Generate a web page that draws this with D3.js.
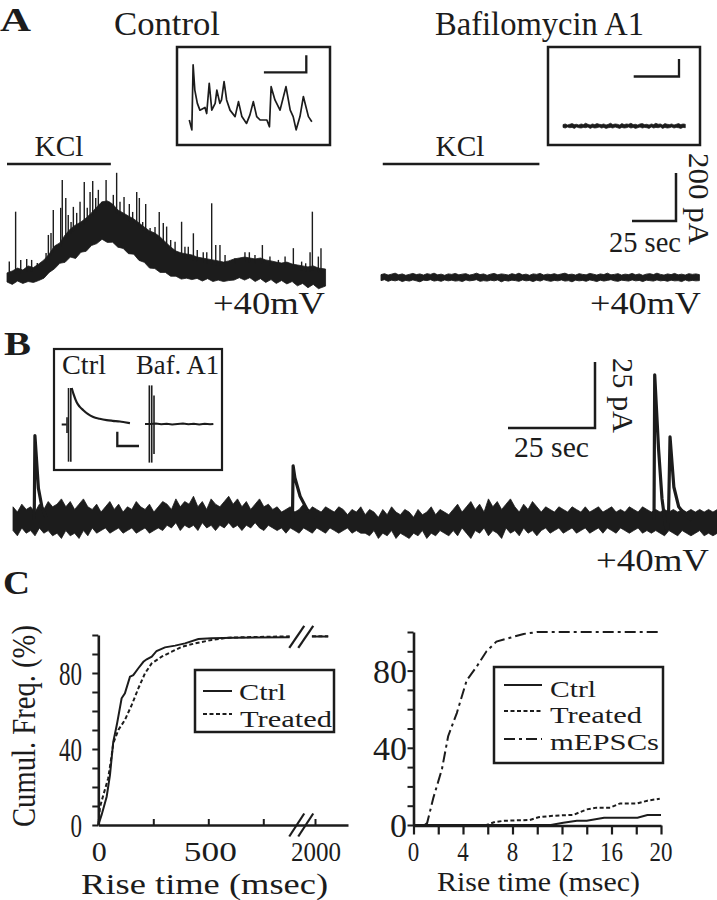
<!DOCTYPE html>
<html><head><meta charset="utf-8">
<script src="https://cdn.jsdelivr.net/npm/d3@7"></script>
<style>
body{margin:0;background:#fff}
svg{display:block}
text{font-family:"Liberation Serif","Times New Roman",serif;fill:#1c1c1c}
</style>
</head><body>
<svg id="fig" width="717" height="900"></svg>
<script>
// ================= DATA =================
// ---- Panel A : whole-cell current during KCl, control (s, pA) ----
const ctrlEnvT  = [0,3,6,9,12,15,18,21,24,27,30,33,36,39,42,45,48,51,54,57,60,63,66,69,72,75,78,81,84,87,90,93,96,99,102,105,108,111,114,117,120,123,126,129,132,135,138,141,144,147,150,153,156,159,162,165,168,171,174,177,181];
const ctrlEnvLo = [0,-10,4,-6,2,-2,6,16,40,55,78,82,104,98,124,128,152,160,178,165,166,145,140,118,116,90,82,58,56,40,40,24,24,12,16,10,15,4,14,2,8,2,6,8,18,8,18,2,14,-2,10,-6,6,-8,2,-16,-6,-24,-10,-28,-17];
const ctrlEnvHi = [38,46,58,50,67,60,75,92,117,150,163,196,221,238,250,267,288,313,334,338,325,300,288,275,263,246,229,213,204,188,167,146,129,121,117,113,104,100,96,92,88,83,88,96,100,104,100,96,100,92,88,83,79,83,75,71,67,63,67,58,54];
const ctrlSpikeT    = [1.3,4.9,7.8,11.2,14,17.2,19.7,22.2,23.5,25,26.3,28.6,30.5,31.4,33.4,34.8,36.4,37.7,39.6,41.5,43.9,45.6,47.2,48.7,50.4,51.9,53.8,56.3,58.1,60.4,62.3,64.2,66.5,69.5,71.4,73.7,75.2,77.1,78.8,81.3,84.1,86.5,88.8,90.7,93,95.5,99.2,101.1,103,105.9,108.1,111.5,113.5,116.3,118.6,121,123.9,129.5,135.2,137.7,140.9,145.1,149.4,154.2,158,162.7,167.4,169.7,172.2,173.5,176.9,178.4];
const ctrlSpikePeak = [85,293,92,96,92,79,79,121,196,204,300,154,309,425,350,279,250,313,288,334,417,309,375,421,350,384,334,425,334,363,455,334,354,325,292,375,350,250,325,225,229,292,246,231,175,168,251,147,147,203,133,124,124,328,154,154,113,99,124,124,113,154,106,92,106,141,85,78,124,293,106,141];
const kclCtrl = [0, 59];      // s
// ---- Panel A : Bafilomycin A1 ----
const bafStep = 2.01;         // s between samples
const bafHi = [12,16,10,14,18,11,15,9,13,17,12,15,10,16,13,18,11,14,9,15,13,17,11,14,16,10,13,18,12,15,9,14,17,11,15,13,10,16,12,18,11,14,9,15,13,17,10,14,12,16,11,15,18,12,14,10,16,13,11,17,14,10,15,12,18,11,13,16,10,14,12,17,11,15,9,14,16,12,18,13,10,15,12,17,11,14,10,16,13,15,12];
const bafLo = [-13,-9,-16,-11,-14,-10,-17,-12,-15,-10,-14,-18,-11,-13,-9,-15,-12,-16,-10,-14,-11,-15,-13,-17,-10,-14,-12,-9,-16,-13,-15,-11,-14,-10,-18,-12,-15,-11,-13,-16,-10,-14,-12,-17,-11,-15,-9,-13,-16,-12,-14,-10,-15,-13,-18,-11,-14,-12,-16,-10,-13,-17,-11,-15,-12,-9,-14,-16,-11,-13,-15,-10,-14,-12,-17,-11,-13,-15,-10,-14,-12,-16,-11,-14,-13,-17,-10,-15,-12,-14,-13];
const kclBaf = [1, 90];       // s
const scaleBarA = {sec: 25, pA: 200};
// ---- Panel A insets (s, pA) ----
const ctrlInsetT = [0,0.06,0.09,0.13,0.19,0.25,0.37,0.41,0.47,0.53,0.61,0.65,0.72,0.76,0.82,0.88,0.96,1.08,1.16,1.24,1.35,1.43,1.51,1.59,1.67,1.83,1.89,1.93,2.02,2.14,2.28,2.38,2.45,2.52,2.61,2.69,2.81,2.89];
const ctrlInsetI = [0,-29,162,88,49,29,37,19,108,29,49,88,49,59,113,59,29,10,54,10,-10,15,54,10,0,0,-20,98,59,29,98,29,10,-29,10,69,10,-5];
const bafInsetStep = 0.05;
const bafInsetHi = [4,6,3,5,7,4,5,3,6,4,8,5,3,6,4,7,5,4,6,3,5,8,4,6,5,3,7,4,6,5,8,4,5,3,6,7,4,5,3,6,4,8,5,6,3,7,5,4,6,3,5,7,4,6,5];
const bafInsetLo = [-4,-6,-3,-5,-4,-7,-3,-5,-6,-4,-5,-3,-7,-4,-6,-5,-3,-6,-4,-7,-5,-4,-6,-3,-5,-7,-4,-6,-5,-3,-6,-4,-7,-5,-3,-6,-4,-5,-7,-3,-6,-4,-5,-3,-7,-4,-6,-5,-3,-6,-4,-5,-7,-4,-5];
const insetBarA = {sec: 1, pA: 50};

// ---- Panel B : spontaneous recording (s, pA) ----
const bStep = 1.265;
const bHi = "5 3 6 4 5 3 6 4 7 5 6 8 5 7 4 6 8 5 4 6 3 5 7 4 6 3 5 4 7 5 4 6 3 5 7 6 4 8 5 7 6 9 5 7 4 8 6 5 7 9 6 8 5 7 4 6 8 5 6 4 5 3 4 5 3 4 6 3 5 4 3 5 4 3 5 4 2 4 3 5 2 4 3 1 4 2 5 3 2 4 3 1 4 2 3 5 2 4 3 2 4 6 3 5 7 4 6 3 8 5 7 4 6 8 5 3 6 4 7 5 3 5 4 3 5 4 3 5 4 3 5 3 4 5 3 4 5 3 4 3 5 4 3 5 4 3 4 3 4 3 4 3 4 3 4 3 4 3 4 3 4".split(" ").map(Number);
const bLo = "-4 -6 -3 -5 -4 -6 -3 -5 -4 -6 -5 -7 -4 -6 -5 -7 -4 -6 -3 -5 -4 -3 -5 -4 -3 -5 -4 -3 -5 -4 -3 -5 -4 -3 -4 -2 -3 -1 -4 -2 -3 -2 -4 -1 -3 -2 -4 -2 -3 -1 -3 -2 -4 -2 -3 -1 -3 -4 -2 -3 -4 -3 -5 -3 -4 -5 -3 -4 -5 -3 -4 -5 -3 -4 -5 -4 -3 -5 -4 -5 -5 -6 -4 -7 -5 -6 -4 -7 -5 -6 -7 -5 -6 -4 -7 -5 -6 -4 -5 -6 -4 -6 -3 -5 -7 -4 -5 -3 -6 -4 -5 -7 -3 -5 -4 -6 -3 -5 -4 -6 -4 -3 -5 -4 -3 -5 -4 -3 -5 -4 -3 -5 -4 -3 -5 -3 -4 -5 -3 -4 -5 -4 -3 -5 -4 -5 -4 -5 -6 -4 -5 -6 -4 -5 -6 -5 -4 -6 -5 -6 -5".split(" ").map(Number);
const bEvent1 = [[6.1,0],[6.3,32],[6.6,26],[7.3,12],[8.3,5],[9.5,1]];
const bEvent2 = [[80.3,0],[80.5,20.5],[81.0,16],[82.5,9],[84.5,4],[87,1]];
const bEvent3 = [[184.2,0],[184.4,55],[185.5,27],[186.5,8],[187.6,-3],[188.3,-3],[188.8,31.5],[189.9,12.5],[191.3,5],[193.1,2],[195,0]];
const scaleBarB = {sec: 25, pA: 25};
// ---- Panel B inset (ms, pA) ----
const bInsetCtrl = [[0,0],[4.5,0],[NaN,NaN],[9.2,25.5],[11,21],[13.8,15.5],[16.5,12.5],[19.9,10],[24,7.4],[29.1,5.2],[35,4],[41.4,3.1],[47,2.6],[53.7,2.1],[58,1.6],[62.9,1.0]];
const bInsetCtrlArtifacts = [[4.9,-6,5],[6.3,-26,25.5],[8.4,-26,25.5]];
const bInsetBaf = [[0,0],[5,0],[10,0.3],[15,-0.2],[20,0.2],[25,-0.3],[30,0],[35,0.3],[40,-0.2],[45,0.2],[50,-0.3],[55,0.1],[60,-0.2],[63,0]];
const bInsetBafArtifacts = [[4,-27,27],[6.2,-27,27],[8.3,-21,20]];
const insetBarB = {ms: 20, pA: 10};

// ---- Panel C : cumulative rise-time distributions (ms, %) ----
const cLeftCtrl = [[0,0],[15,5.3],[38,14.9],[53,26.3],[68,43.8],[84,52.6],[106,66.7],[121,69.3],[144,78.1],[159,78.9],[182,82.5],[205,85.9],[220,87.2],[243,88.6],[265,91.6],[303,93.5],[349,94.4],[394,95.6],[455,97.9],[515,98.3],[620,98.6],[870,98.8]];
const cLeftCtrlTail = [[1986,99.2],[2060,99.2]];
const cLeftTreated = [[0,0],[8,9.6],[23,15.8],[45,24.6],[61,36.8],[68,43],[91,50],[121,55.3],[152,63.2],[182,71.9],[212,79.8],[243,85.1],[288,88.6],[334,91.2],[379,93.8],[440,95.6],[515,97.4],[591,98.6],[697,98.9],[870,99.3]];
const cLeftTreatedTail = [[1986,99.4],[2060,99.4]];
const cLeftXTicks = [0,250,500,750,2000];
const cLeftXLabels = [0,500,2000];
const cRightCtrl = [[0,0],[11.1,0],[12.1,1.2],[13.2,2.2],[14,2.2],[15.4,3.8],[18.1,3.8],[18.9,5.2],[20,5.2]];
const cRightTreated = [[0,0],[5.9,0],[6.5,1.4],[7.3,2.2],[9.4,2.6],[10.1,4],[11.1,4.7],[11.9,5],[12.9,5.2],[14,8.1],[14.8,9],[15.9,9],[16.7,11.2],[18.1,11.2],[18.9,12.6],[19.9,13.6]];
const cRightMEPSC = [[0.9,0],[1.1,1],[1.6,14],[2.3,29],[2.8,46],[3.5,58],[4.3,75],[5.1,82],[5.9,90],[6.7,95],[7.8,97],[8.9,99],[10,100],[20,100]];
const cYTicks = [0,10,20,30,40,50,60,70,80,90,100];
const cYLabels = [0,40,80];
const cRightXTicks = [0,2,4,6,8,10,12,14,16,18,20];
const cRightXLabels = [0,4,8,12,16,20];
const legendLeft = ["Ctrl","Treated"];
const legendRight = ["Ctrl","Treated","mEPSCs"];

// ================= DRAWING =================
const ink = "#1c1c1c";
const svg = d3.select("#fig");
svg.append("rect").attr("width",717).attr("height",900).attr("fill","#fff");

function addText(s, x, y, o = {}) {
  const t = svg.append("text").attr("x", x).attr("y", y).text(s)
    .attr("font-size", o.size || 30)
    .attr("text-anchor", o.anchor || "start");
  if (o.bold) t.attr("font-weight", "bold");
  if (o.len) t.attr("textLength", o.len).attr("lengthAdjust", "spacingAndGlyphs");
  if (o.rot) t.attr("transform", `rotate(${o.rot},${x},${y})`);
  return t;
}
function seg(x1, y1, x2, y2, w = 2.5) {
  svg.append("line").attr("x1", x1).attr("y1", y1).attr("x2", x2).attr("y2", y2)
    .attr("stroke", ink).attr("stroke-width", w).attr("stroke-linecap", "butt");
}
function box(x, y, w, h, sw = 2.5) {
  svg.append("rect").attr("x", x).attr("y", y).attr("width", w).attr("height", h)
    .attr("fill", "none").attr("stroke", ink).attr("stroke-width", sw);
}
function band(rows, x, y, sw = 0.8) {
  svg.append("path").datum(rows)
    .attr("d", d3.area().x(d => x(d.t)).y0(d => y(d.lo)).y1(d => y(d.hi)))
    .attr("fill", ink).attr("stroke", ink).attr("stroke-width", sw).attr("stroke-linejoin", "miter");
}

// ---------- panel letters & titles ----------
addText("A", 0, 31, {size: 34, bold: true, len: 31});
addText("B", 4, 355, {size: 34, bold: true, len: 27});
addText("C", 3, 594, {size: 34, bold: true, len: 27});
addText("Control", 114, 35, {size: 34, len: 106});
addText("Bafilomycin A1", 435, 35, {size: 33, len: 209});

// ---------- Panel A : control ----------
const xCtrl = d3.scaleLinear().domain([0, 181]).range([7, 7 + 181 * 1.76]);
const yCtrl = d3.scaleLinear().domain([0, 200]).range([282, 234]);
band(ctrlEnvT.map((t, i) => ({t, lo: ctrlEnvLo[i], hi: ctrlEnvHi[i]})), xCtrl, yCtrl);
const ctrlTop = d3.scaleLinear().domain(ctrlEnvT).range(ctrlEnvHi);
svg.append("g").selectAll("line").data(ctrlSpikeT.map((t, i) => ({t, p: ctrlSpikePeak[i]})))
  .join("line")
  .attr("x1", d => xCtrl(d.t)).attr("x2", d => xCtrl(d.t))
  .attr("y1", d => yCtrl(ctrlTop(d.t) - 20)).attr("y2", d => yCtrl(d.p))
  .attr("stroke", ink).attr("stroke-width", 1.4);
seg(xCtrl(kclCtrl[0]), 164, xCtrl(kclCtrl[1]), 164, 2.5);
addText("KCl", (xCtrl(kclCtrl[0]) + xCtrl(kclCtrl[1])) / 2, 156, {size: 29, anchor: "middle", len: 49});
addText("+40mV", 213, 314, {size: 32, len: 112});

// control inset
box(177, 47, 153, 98);
const xCI = d3.scaleLinear().domain([0, 1]).range([189.3, 231.7]);
const yCI = d3.scaleLinear().domain([0, 50]).range([120, 103]);
svg.append("path").datum(ctrlInsetT.map((t, i) => [t, ctrlInsetI[i]]))
  .attr("d", d3.line().x(d => xCI(d[0])).y(d => yCI(d[1])))
  .attr("fill", "none").attr("stroke", ink).attr("stroke-width", 1.7).attr("stroke-linejoin", "round");
{
  const L = xCI(insetBarA.sec) - xCI(0), V = yCI(0) - yCI(insetBarA.pA);
  const xr = 306.3, yb = 72.3;
  svg.append("path").attr("d", `M${xr - L},${yb}H${xr}V${yb - V}`)
    .attr("fill", "none").attr("stroke", ink).attr("stroke-width", 2.3);
}

// ---------- Panel A : Bafilomycin ----------
const xBaf = d3.scaleLinear().domain([0, 181]).range([381, 381 + 181 * 1.76]);
const yBaf = d3.scaleLinear().domain([0, 200]).range([277.5, 229.5]);
band(bafHi.map((h, i) => ({t: i * bafStep, lo: bafLo[i], hi: h})), xBaf, yBaf, 0.9);
seg(xBaf(kclBaf[0]), 164, xBaf(kclBaf[1]), 164, 2.5);
addText("KCl", 460, 156, {size: 29, anchor: "middle", len: 49});
addText("+40mV", 590, 314, {size: 32, len: 111});
{
  const L = xBaf(scaleBarA.sec) - xBaf(0), V = yBaf(0) - yBaf(scaleBarA.pA);
  const xr = 676, yb = 221;
  svg.append("path").attr("d", `M${xr - L},${yb}H${xr}V${yb - V}`)
    .attr("fill", "none").attr("stroke", ink).attr("stroke-width", 2.5);
  addText(`${scaleBarA.pA} pA`, 689, 153, {size: 30, rot: 90, len: 92});
  addText(`${scaleBarA.sec} sec`, 609, 252, {size: 29, len: 72});
}
// Baf inset
box(548, 47, 152, 98);
const xBI = d3.scaleLinear().domain([0, 1]).range([563, 608.3]);
const yBI = d3.scaleLinear().domain([0, 50]).range([126, 108.6]);
band(bafInsetHi.map((h, i) => ({t: i * bafInsetStep, lo: bafInsetLo[i], hi: h})), xBI, yBI, 0.7);
{
  const L = xBI(insetBarA.sec) - xBI(0), V = yBI(0) - yBI(insetBarA.pA);
  const xr = 679, yb = 76.5;
  svg.append("path").attr("d", `M${xr - L},${yb}H${xr}V${yb - V}`)
    .attr("fill", "none").attr("stroke", ink).attr("stroke-width", 2.3);
}

// ---------- Panel B ----------
const xB = d3.scaleLinear().domain([0, 202.3]).range([13, 13 + 202.3 * 3.48]);
const yB = d3.scaleLinear().domain([0, 25]).range([520, 454]);
band(bHi.map((h, i) => ({t: i * bStep, lo: bLo[i], hi: h})), xB, yB, 0.8);
[bEvent1, bEvent2, bEvent3].forEach(ev => {
  svg.append("path").datum(ev)
    .attr("d", d3.line().x(d => xB(d[0])).y(d => yB(d[1])))
    .attr("fill", "none").attr("stroke", ink).attr("stroke-width", 3.2).attr("stroke-linejoin", "round");
});
{
  const L = xB(scaleBarB.sec) - xB(0), V = yB(0) - yB(scaleBarB.pA);
  const xr = 595, yb = 428;
  svg.append("path").attr("d", `M${xr - L},${yb}H${xr}V${yb - V}`)
    .attr("fill", "none").attr("stroke", ink).attr("stroke-width", 2.5);
  addText(`${scaleBarB.pA} pA`, 613, 358, {size: 30, rot: 90, len: 75});
  addText(`${scaleBarB.sec} sec`, 514, 457, {size: 30, len: 75});
}
addText("+40mV", 596, 571, {size: 32, len: 113});

// B inset
box(54, 349, 168, 121, 2.2);
addText("Ctrl", 62, 374, {size: 27, len: 44});
addText("Baf. A1", 136, 374, {size: 27, len: 83});
const xBIc = d3.scaleLinear().domain([0, 20]).range([61.7, 83.4]);
const xBIb = d3.scaleLinear().domain([0, 20]).range([145, 166.7]);
const yBIc = d3.scaleLinear().domain([0, 10]).range([424.5, 410.2]);
const yBIb = d3.scaleLinear().domain([0, 10]).range([424, 409.7]);
svg.append("path").datum(bInsetCtrl)
  .attr("d", d3.line().defined(d => !isNaN(d[1])).curve(d3.curveMonotoneX).x(d => xBIc(d[0])).y(d => yBIc(d[1])))
  .attr("fill", "none").attr("stroke", ink).attr("stroke-width", 2.2);
svg.append("g").selectAll("line").data(bInsetCtrlArtifacts).join("line")
  .attr("x1", d => xBIc(d[0])).attr("x2", d => xBIc(d[0]))
  .attr("y1", d => yBIc(d[1])).attr("y2", d => yBIc(d[2]))
  .attr("stroke", ink).attr("stroke-width", 1.6);
svg.append("path").datum(bInsetBaf)
  .attr("d", d3.line().x(d => xBIb(d[0])).y(d => yBIb(d[1])))
  .attr("fill", "none").attr("stroke", ink).attr("stroke-width", 2);
svg.append("g").selectAll("line").data(bInsetBafArtifacts).join("line")
  .attr("x1", d => xBIb(d[0])).attr("x2", d => xBIb(d[0]))
  .attr("y1", d => yBIb(d[1])).attr("y2", d => yBIb(d[2]))
  .attr("stroke", ink).attr("stroke-width", 1.6);
{
  const L = xBIc(insetBarB.ms) - xBIc(0), V = yBIc(0) - yBIc(insetBarB.pA);
  const xl = 117.3, yb = 446;
  svg.append("path").attr("d", `M${xl},${yb - V}V${yb}H${xl + L}`)
    .attr("fill", "none").attr("stroke", ink).attr("stroke-width", 2.3);
}

// ---------- Panel C : left ----------
const dashT = "4,2.5", dashM = "11,4,3,4";
const xL = d3.scaleLinear().domain([0, 900, 1960, 2150]).range([98.3, 296.3, 306.2, 348]);
const yL = d3.scaleLinear().domain([0, 100]).range([825, 635]);
function styleAxis(g, sw) {
  g.select(".domain").attr("stroke", ink).attr("stroke-width", 2.6);
  g.selectAll(".tick line").attr("stroke", ink).attr("stroke-width", sw);
  g.selectAll(".tick text").remove();
}
svg.append("g").attr("transform", "translate(98.3,0)")
  .call(d3.axisLeft(yL).tickValues(cYTicks).tickSize(6).tickSizeOuter(0))
  .call(g => styleAxis(g, 2));
svg.append("g").attr("transform", "translate(0,825)")
  .call(d3.axisTop(xL).tickValues(cLeftXTicks).tickSize(6).tickSizeOuter(0))
  .call(g => styleAxis(g, 2));
const lineL = d3.line().x(d => xL(d[0])).y(d => yL(d[1]));
[[cLeftCtrl, null], [cLeftCtrlTail, null], [cLeftTreated, dashT], [cLeftTreatedTail, dashT]].forEach(([d, dash]) => {
  svg.append("path").datum(d).attr("d", lineL).attr("fill", "none")
    .attr("stroke", ink).attr("stroke-width", 2).attr("stroke-dasharray", dash);
});
{ // axis break marks
  const cx = (xL(900) + xL(1960)) / 2;
  [[825, 11.5], [yL(99), 11]].forEach(([cy, hh]) => {
    [-4.5, 4.5].forEach(off => {
      svg.append("line").attr("x1", cx + off - 7.5).attr("y1", cy + hh)
        .attr("x2", cx + off + 7.5).attr("y2", cy - hh)
        .attr("stroke", ink).attr("stroke-width", 2.2);
    });
  });
}
cYLabels.forEach(v => addText(String(v), 82, yL(v) + 12, {size: 34, anchor: "end", len: 11.5 * String(v).length}));
const leftXW = {0: 15, 500: 53, 2000: 50};
cLeftXLabels.forEach(v => addText(String(v), xL(v) + (v === 500 ? 2 : 1), 861, {size: 28, anchor: "middle", len: leftXW[v]}));
addText("Cumul. Freq. (%)", 35, 726, {size: 34, anchor: "middle", rot: -90, len: 202});
addText("Rise time (msec)", 204.6, 893.6, {size: 29, anchor: "middle", len: 247});
// left legend
box(195, 670, 139, 62, 2.5);
seg(203, 691, 232, 691, 2);
svg.append("line").attr("x1", 203).attr("x2", 232).attr("y1", 714).attr("y2", 714)
  .attr("stroke", ink).attr("stroke-width", 2).attr("stroke-dasharray", dashT);
addText(legendLeft[0], 239, 700, {size: 24, len: 47});
addText(legendLeft[1], 240, 727, {size: 24, len: 92});

// ---------- Panel C : right ----------
const xR = d3.scaleLinear().domain([0, 20]).range([413.5, 661]);
const yR = d3.scaleLinear().domain([0, 100]).range([825, 632]);
svg.append("g").attr("transform", "translate(413.5,0)")
  .call(d3.axisLeft(yR).tickValues(cYTicks).tickSize(6).tickSizeOuter(0))
  .call(g => styleAxis(g, 2));
svg.append("g").attr("transform", "translate(0,825.5)")
  .call(d3.axisBottom(xR).tickValues(cRightXTicks).tickSize(9).tickSizeOuter(0))
  .call(g => styleAxis(g, 2.2));
const lineR = d3.line().x(d => xR(d[0])).y(d => yR(d[1]));
[[cRightCtrl, null], [cRightTreated, dashT], [cRightMEPSC, dashM]].forEach(([d, dash]) => {
  svg.append("path").datum(d).attr("d", lineR).attr("fill", "none")
    .attr("stroke", ink).attr("stroke-width", 2).attr("stroke-dasharray", dash);
});
cYLabels.forEach(v => addText(String(v), 407, yR(v) + 12, {size: 34, anchor: "end"}));
cRightXLabels.forEach(v => addText(String(v), xR(v), 860.5, {size: 27, anchor: "middle", len: 11.5 * String(v).length}));
addText("Rise time (msec)", 538.5, 891, {size: 28, anchor: "middle", len: 203});
// right legend
box(494, 667, 169, 96, 2.5);
[[685, null], [711, dashT], [739, dashM]].forEach(([y, dash]) => {
  svg.append("line").attr("x1", 504).attr("x2", 542).attr("y1", y).attr("y2", y)
    .attr("stroke", ink).attr("stroke-width", 2).attr("stroke-dasharray", dash);
});
addText(legendRight[0], 550, 696.5, {size: 24, len: 46});
addText(legendRight[1], 550, 723.3, {size: 24, len: 92});
addText(legendRight[2], 550, 750, {size: 24, len: 109});
</script>
</body></html>
